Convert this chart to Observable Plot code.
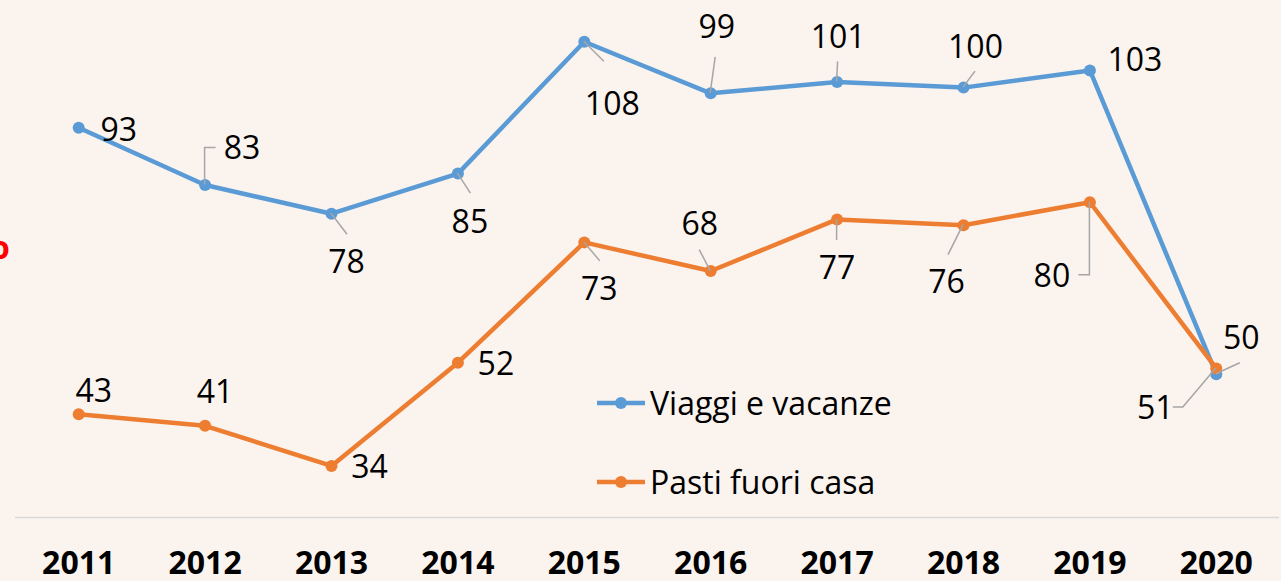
<!DOCTYPE html>
<html><head><meta charset="utf-8">
<script src="https://cdn.jsdelivr.net/npm/d3@7"></script>
<script src="https://cdn.jsdelivr.net/npm/@observablehq/plot@0.6"></script>
<style>
html,body{margin:0;padding:0;background:#FBF3EE;}
#wrap{position:relative;width:1281px;height:581px;overflow:hidden;font-family:"Open Sans",sans-serif;}
#wrap svg{display:block;}
.legend{position:absolute;left:597px;display:flex;align-items:center;height:40px;font-size:32px;color:#000;line-height:40px;}
.legend svg{margin-right:5px;}
.redo{position:absolute;left:-10px;top:231px;font-size:32px;line-height:32px;font-weight:bold;color:#FF0000;}
</style></head><body><div id="wrap"></div>
<script>
// ---- data ----
const years = [2011, 2012, 2013, 2014, 2015, 2016, 2017, 2018, 2019, 2020];
const viaggi = [93, 83, 78, 85, 108, 99, 101, 100, 103, 50];
const pasti = [43, 41, 34, 52, 73, 68, 77, 76, 80, 51];
const seriesNames = ["Viaggi e vacanze", "Pasti fuori casa"];
const seriesColors = ["#5B9BD5", "#ED7D31"];

// ---- label placement (pixel offsets from each point) ----
const viaggiLabelOffsets = [[40,3],[37,-36],[15,49],[12,49],[28,63],[6,-66],[1,-44],[12,-40],[45,-10],[25,-35]];
const pastiLabelOffsets = [[15,-23],[10,-33],[38,2],[38,2],[15,47],[-11,-46],[0,49],[-17,58],[-38,74],[-61,40]];
const viaggiLeaders = [null,[[0,-37],[11,-37]],[[16,21]],[[13,20]],[[20,20]],[[5,-36]],[[1,-20]],[[12,-16]],null,[[24,-11]]];
const pastiLeaders = [null,null,null,null,[[16,19]],[[-11,-21]],[[0,21]],[[-15,30]],[[0,73],[-11,73]],[[-33,39],[-43,39]]];

const series = [
  {name: seriesNames[0], color: seriesColors[0], values: viaggi, offsets: viaggiLabelOffsets, leaders: viaggiLeaders},
  {name: seriesNames[1], color: seriesColors[1], values: pasti, offsets: pastiLabelOffsets, leaders: pastiLeaders}
];
const rows = s => years.map((year, i) => ({year, value: s.values[i]}));

const yDomain = [25, 115.2];

function leaderMark(index, scales) {
  const g = d3.create("svg:g").attr("fill", "none").attr("stroke", "#A6A6A6").attr("stroke-width", 1.5);
  for (const s of series) {
    s.values.forEach((v, i) => {
      const pts = s.leaders[i];
      if (!pts) return;
      const x0 = scales.x(years[i]), y0 = scales.y(v);
      let d = `M${x0},${y0}`;
      for (const [dx, dy] of pts) d += `L${x0 + dx},${y0 + dy}`;
      g.append("path").attr("d", d);
    });
  }
  return g.node();
}

const marks = [
  Plot.ruleY([yDomain[0]], {stroke: "#D9D9D9", strokeWidth: 1.5}),
  Plot.axisX({ticks: years, tickSize: 0, tickPadding: 34, label: null, tickFormat: d => String(d), fontSize: 32, fontWeight: "bold", fill: "#000"})
];
for (const s of series) {
  marks.push(Plot.line(rows(s), {x: "year", y: "value", stroke: s.color, strokeWidth: 4.5, strokeLinejoin: "round"}));
  marks.push(Plot.dot(rows(s), {x: "year", y: "value", r: 6, fill: s.color}));
}
marks.push(leaderMark);
for (const s of series) {
  rows(s).forEach((d, i) => {
    marks.push(Plot.text([d], {x: "year", y: "value", text: r => String(r.value), dx: s.offsets[i][0], dy: s.offsets[i][1], fontSize: 32, fill: "#000"}));
  });
}

const chart = Plot.plot({
  width: 1281, height: 581,
  marginLeft: 15, marginRight: 2, marginTop: 0, marginBottom: 64,
  style: {background: "#FBF3EE", fontFamily: "'Open Sans', sans-serif", color: "#000", overflow: "visible"},
  x: {type: "linear", domain: [2010.5, 2020.5], label: null},
  y: {domain: yDomain, axis: null},
  marks
});
const wrap = document.getElementById("wrap");
wrap.appendChild(chart);

// red clipped letter at left edge
const o = document.createElement("span");
o.className = "redo"; o.textContent = "o";
wrap.appendChild(o);

// legend
const legendTops = [383, 462];
series.forEach((s, i) => {
  const div = document.createElement("div");
  div.className = "legend";
  div.style.top = legendTops[i] + "px";
  div.innerHTML = `<svg width="48" height="14"><line x1="0" y1="7" x2="48" y2="7" stroke="${s.color}" stroke-width="4.5"/><circle cx="24" cy="7" r="6" fill="${s.color}"/></svg><span></span>`;
  div.querySelector("span").textContent = s.name;
  wrap.appendChild(div);
});
</script>
</body></html>
